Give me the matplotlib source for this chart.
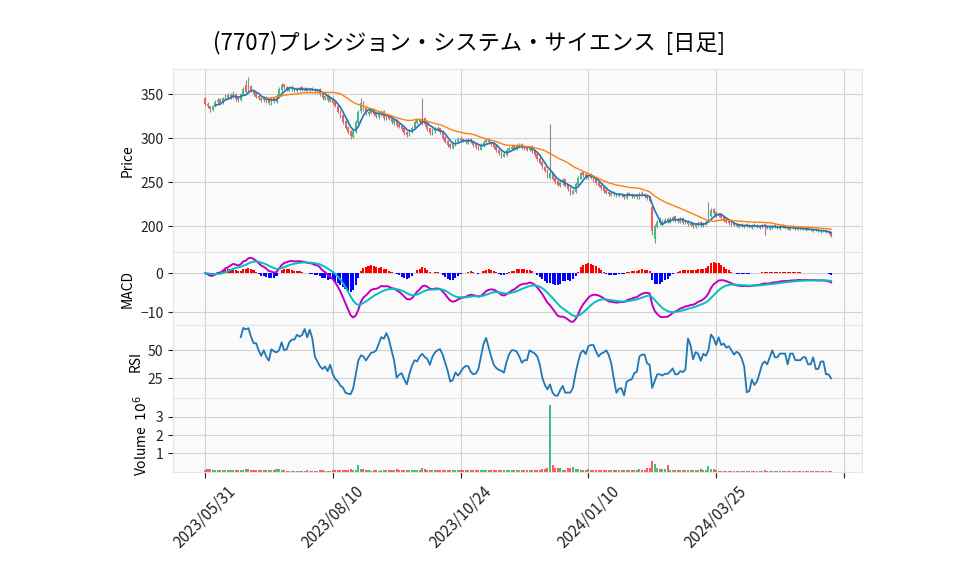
"""
(7707) 日足チャート: ローソク足 + MA / MACD / RSI / 出来高
"""

import numpy as np
import pandas as pd
import matplotlib

matplotlib.use("Agg")
import matplotlib.pyplot as plt
from matplotlib.ticker import MultipleLocator, FixedLocator

plt.rcParams["font.family"] = ["Noto Sans CJK JP", "DejaVu Sans"]
plt.rcParams["axes.unicode_minus"] = True

TITLE = "(7707)プレシジョン・システム・サイエンス  [日足]"

# 日付ラベル (50営業日ごと)
tick_index = [0, 50, 100, 150, 200, 250]
tick_labels = ["2023/05/31", "2023/08/10", "2023/10/24", "2024/01/10", "2024/03/25", ""]

opens = [
    345, 339, 336, 332, 336, 341, 344, 340, 345, 349, 345, 348, 350, 345, 343, 350, 360, 352, 359, 355,
    351, 348, 346, 343, 347, 344, 339, 346, 341, 348, 355, 361, 358, 354, 358, 357, 353, 355, 358, 354,
    357, 353, 357, 355, 352, 356, 351, 344, 349, 342, 346, 341, 337, 331, 326, 319, 313, 308, 301, 307,
    317, 331, 341, 334, 327, 329, 333, 328, 324, 326, 331, 322, 326, 323, 317, 321, 316, 314, 311, 307,
    303, 307, 311, 317, 321, 317, 323, 317, 311, 305, 308, 312, 311, 308, 301, 297, 293, 289, 292, 296,
    300, 299, 298, 294, 299, 297, 293, 291, 287, 291, 295, 299, 296, 294, 291, 287, 284, 279, 281, 286,
    288, 291, 287, 290, 293, 291, 290, 286, 291, 286, 282, 277, 273, 267, 264, 255, 259, 255, 251, 246,
    249, 253, 247, 243, 237, 239, 247, 254, 261, 259, 255, 259, 256, 253, 250, 247, 244, 241, 239, 235,
    239, 237, 234, 237, 236, 232, 238, 237, 233, 236, 232, 238, 237, 235, 233, 222, 185, 199, 206, 202,
    205, 208, 204, 207, 211, 208, 205, 209, 203, 206, 201, 204, 199, 201, 205, 200, 202, 206, 211, 219,
    216, 211, 214, 210, 208, 206, 204, 203, 202, 199, 202, 199, 202, 201, 198, 202, 201, 198, 199, 202,
    200, 197, 198, 201, 200, 197, 201, 200, 199, 196, 200, 199, 196, 199, 198, 195, 198, 197, 194, 197,
    196, 193, 196, 195, 194, 193,
]
highs = [
    347, 341, 337, 338, 343, 345, 346, 347, 350, 351, 351, 353, 351, 347, 351, 358, 366, 369, 360, 356,
    352, 349, 347, 348, 348, 345, 347, 347, 350, 358, 363, 362, 359, 359, 360, 358, 358, 359, 359, 358,
    358, 357, 358, 357, 356, 357, 352, 349, 350, 346, 347, 342, 338, 332, 327, 320, 314, 309, 310, 320,
    332, 345, 342, 335, 332, 334, 334, 329, 329, 332, 332, 327, 327, 324, 322, 322, 317, 315, 312, 308,
    310, 314, 320, 322, 322, 345, 324, 318, 312, 311, 313, 314, 312, 309, 302, 298, 294, 295, 299, 301,
    302, 300, 299, 300, 300, 298, 294, 292, 294, 298, 300, 300, 297, 295, 292, 288, 285, 284, 289, 291,
    292, 292, 293, 294, 294, 292, 291, 291, 292, 287, 283, 278, 274, 268, 265, 316, 262, 256, 252, 252,
    255, 254, 248, 244, 242, 250, 257, 262, 262, 260, 260, 260, 257, 254, 251, 248, 245, 242, 240, 240,
    240, 238, 238, 238, 237, 239, 239, 238, 237, 237, 239, 240, 238, 236, 234, 223, 202, 207, 210, 208,
    209, 210, 210, 212, 212, 209, 210, 210, 207, 207, 205, 205, 204, 206, 206, 205, 207, 227, 221, 220,
    217, 215, 215, 211, 209, 207, 205, 204, 203, 202, 203, 202, 203, 202, 202, 203, 202, 201, 202, 203,
    201, 200, 201, 202, 201, 201, 202, 201, 200, 200, 201, 200, 199, 200, 199, 198, 199, 198, 197, 198,
    197, 196, 197, 196, 195, 194,
]
lows = [
    337, 334, 330, 331, 335, 339, 338, 339, 343, 344, 344, 346, 342, 341, 342, 349, 351, 351, 352, 348,
    345, 343, 341, 341, 340, 338, 338, 340, 340, 347, 354, 356, 353, 353, 354, 352, 352, 354, 353, 353,
    352, 352, 353, 351, 351, 348, 343, 343, 341, 341, 339, 335, 329, 323, 316, 310, 305, 299, 300, 306,
    316, 329, 331, 326, 325, 327, 325, 323, 322, 325, 321, 320, 320, 316, 315, 313, 311, 308, 304, 301,
    302, 306, 310, 316, 316, 315, 314, 308, 304, 304, 306, 308, 305, 298, 294, 290, 288, 288, 291, 295,
    296, 295, 293, 293, 294, 290, 288, 286, 286, 290, 294, 293, 291, 288, 284, 281, 277, 278, 280, 285,
    287, 286, 286, 289, 288, 287, 285, 285, 283, 279, 274, 270, 265, 261, 255, 253, 252, 248, 245, 244,
    247, 244, 240, 235, 236, 238, 246, 253, 256, 254, 254, 253, 250, 247, 244, 241, 238, 236, 234, 234,
    234, 233, 233, 233, 231, 231, 234, 232, 232, 231, 231, 234, 232, 230, 227, 190, 181, 198, 201, 201,
    203, 203, 203, 206, 205, 204, 204, 202, 202, 200, 200, 198, 198, 200, 199, 199, 201, 205, 210, 213,
    210, 210, 207, 205, 203, 201, 200, 200, 199, 198, 199, 198, 199, 198, 197, 199, 198, 197, 198, 190,
    197, 196, 197, 198, 197, 196, 198, 197, 196, 195, 197, 196, 195, 196, 195, 194, 195, 194, 193, 194,
    193, 192, 193, 192, 191, 188,
]
closes = [
    339, 336, 333, 337, 341, 343, 340, 345, 348, 346, 349, 350, 344, 343, 350, 356, 352, 358, 354, 350,
    347, 345, 343, 346, 343, 340, 345, 342, 348, 356, 360, 358, 355, 357, 356, 354, 356, 357, 355, 356,
    354, 356, 355, 353, 355, 350, 345, 348, 343, 345, 340, 336, 330, 325, 318, 312, 307, 302, 308, 318,
    330, 340, 333, 328, 330, 332, 327, 325, 327, 330, 323, 325, 322, 318, 320, 315, 313, 310, 306, 304,
    308, 312, 318, 320, 318, 322, 316, 310, 306, 309, 311, 310, 307, 300, 296, 292, 290, 293, 297, 299,
    298, 297, 295, 298, 296, 292, 290, 288, 292, 296, 298, 295, 293, 290, 286, 283, 280, 282, 287, 289,
    290, 288, 291, 292, 290, 289, 287, 290, 285, 281, 276, 272, 268, 263, 258, 260, 254, 250, 247, 250,
    252, 246, 242, 238, 240, 248, 255, 260, 258, 256, 258, 255, 252, 249, 246, 243, 240, 238, 236, 238,
    236, 235, 236, 235, 233, 237, 236, 234, 235, 233, 237, 236, 234, 232, 229, 194, 200, 205, 203, 206,
    207, 205, 208, 210, 207, 206, 208, 204, 205, 202, 203, 200, 202, 204, 201, 203, 205, 210, 218, 215,
    212, 213, 209, 207, 205, 203, 202, 201, 200, 201, 200, 201, 200, 199, 201, 200, 199, 200, 201, 200,
    198, 199, 200, 199, 198, 200, 199, 198, 197, 199, 198, 197, 198, 197, 196, 197, 196, 195, 196, 195,
    194, 195, 194, 193, 192, 189,
]
# 出来高 (千株)
volume_k = [
    110, 150, 120, 100, 100, 95, 90, 85, 100, 90, 80, 95, 90, 85, 100, 110, 150, 120, 100, 90,
    85, 80, 90, 95, 80, 70, 60, 110, 140, 130, 100, 60, 50, 50, 45, 50, 55, 50, 45, 50,
    60, 50, 55, 50, 45, 90, 60, 50, 50, 55, 100, 110, 110, 100, 110, 100, 110, 120, 100, 110,
    370, 160, 130, 70, 60, 50, 60, 70, 50, 60, 90, 80, 60, 90, 60, 120, 80, 60, 60, 110,
    80, 70, 60, 100, 80, 200, 120, 100, 80, 90, 70, 60, 100, 90, 110, 90, 80, 70, 100, 90,
    80, 70, 60, 60, 80, 70, 60, 60, 80, 70, 60, 60, 70, 110, 80, 70, 90, 80, 60, 60,
    60, 70, 60, 60, 80, 70, 80, 90, 100, 100, 110, 100, 120, 140, 200, 3670, 370, 200, 180, 200,
    90, 110, 200, 200, 260, 150, 120, 80, 90, 100, 120, 80, 90, 70, 60, 80, 100, 90, 80, 70,
    60, 80, 90, 100, 80, 70, 60, 80, 90, 100, 150, 100, 110, 200, 200, 590, 440, 200, 150, 150,
    130, 370, 90, 80, 70, 80, 90, 80, 70, 80, 90, 100, 90, 80, 150, 90, 100, 310, 150, 120,
    100, 40, 40, 35, 40, 35, 40, 35, 40, 35, 40, 35, 40, 35, 40, 35, 40, 35, 40, 90,
    40, 35, 40, 35, 40, 35, 40, 35, 40, 35, 40, 35, 40, 35, 40, 35, 40, 35, 40, 35,
    40, 35, 40, 35, 40, 35,
]

UP_COLOR = "#40c080"
DOWN_COLOR = "#ff5a5a"
WICK_COLOR = "#8c8c8c"
FACE = "#fafafa"
GRID = "#d2d2d2"


def main():
    df = pd.DataFrame({"open": opens, "high": highs, "low": lows, "close": closes,
                       "volume": np.array(volume_k) * 1000})
    x = np.arange(len(df))
    close = df["close"]

    ma5 = close.rolling(5).mean()
    ma25 = close.rolling(25).mean()

    ema12 = close.ewm(span=12, adjust=False).mean()
    ema26 = close.ewm(span=26, adjust=False).mean()
    macd = ema12 - ema26
    signal = macd.ewm(span=9, adjust=False).mean()
    hist = macd - signal

    delta = close.diff()
    gain = delta.clip(lower=0).rolling(14).mean()
    loss = (-delta.clip(upper=0)).rolling(14).mean()
    rsi = 100 - 100 / (1 + gain / loss)

    fig = plt.figure(figsize=(9.58, 5.75), dpi=100)
    left, width = 0.1806, 0.7192
    ax_p = fig.add_axes([left, 0.5609, width, 0.3183])
    ax_m = fig.add_axes([left, 0.4348, width, 0.1261], sharex=ax_p)
    ax_r = fig.add_axes([left, 0.3078, width, 0.1270], sharex=ax_p)
    ax_v = fig.add_axes([left, 0.1783, width, 0.1296], sharex=ax_p)
    axes = [ax_p, ax_m, ax_r, ax_v]

    up = df["close"] >= df["open"]
    colors = np.where(up, UP_COLOR, DOWN_COLOR)

    # ローソク足
    ax_p.vlines(x, df["low"], df["high"], color=WICK_COLOR, linewidth=0.8, zorder=2)
    body_lo = np.minimum(df["open"], df["close"])
    body_h = np.maximum(np.abs(df["close"] - df["open"]), 0.4)
    ax_p.bar(x, body_h, bottom=body_lo, width=0.7, color=colors, linewidth=0, zorder=3)
    ax_p.plot(x, ma5, color="#1f77b4", linewidth=1.2, zorder=4)
    ax_p.plot(x, ma25, color="#ff7f0e", linewidth=1.0, zorder=4)
    ax_p.set_ylim(170, 378)
    ax_p.yaxis.set_major_locator(MultipleLocator(50))
    ax_p.set_ylabel("Price")

    # MACD
    ax_m.bar(x, hist, width=0.8, color=np.where(hist >= 0, "#ff0000", "#0000ff"), linewidth=0, zorder=2)
    ax_m.plot(x, macd, color="#c000c0", linewidth=1.4, zorder=3)
    ax_m.plot(x, signal, color="#00c0c0", linewidth=1.4, zorder=3)
    ax_m.set_ylim(-13.3, 5.3)
    ax_m.yaxis.set_major_locator(MultipleLocator(10))
    ax_m.set_ylabel("MACD")

    # RSI
    ax_r.plot(x, rsi, color="#1f77b4", linewidth=1.3, zorder=3)
    ax_r.set_ylim(7.4, 72.6)
    ax_r.yaxis.set_major_locator(FixedLocator([25, 50]))
    ax_r.set_ylabel("RSI")

    # 出来高
    ax_v.bar(x, df["volume"] / 1e6, width=0.8, color=colors, linewidth=0, zorder=2)
    ax_v.set_ylim(-0.05, 4.03)
    ax_v.yaxis.set_major_locator(FixedLocator([1, 2, 3]))
    ax_v.set_ylabel("Volume  $10^{6}$")

    for ax in axes:
        ax.set_facecolor(FACE)
        ax.grid(True, color=GRID, linewidth=0.8)
        ax.set_axisbelow(True)
        for sp in ax.spines.values():
            sp.set_color("#e6e6e6")
        ax.tick_params(axis="y", labelsize=10, length=3.5, width=0.8, colors="#222222")
        ax.yaxis.label.set_size(10)
        ax.tick_params(axis="x", length=0, labelbottom=False)

    ax_v.set_xlim(-12.5, 257.1)
    ax_v.xaxis.set_major_locator(FixedLocator(tick_index))
    ax_v.set_xticklabels(tick_labels)
    ax_v.tick_params(axis="x", length=4, width=0.8, labelbottom=True, labelsize=11, colors="#222222")
    for lab in ax_v.get_xticklabels():
        lab.set_rotation(45)
        lab.set_ha("center")

    fig.text(0.49, 0.925, TITLE, ha="center", va="center", fontsize=16)

    fig.savefig("out.png", dpi=100)
    plt.close(fig)


if __name__ == "__main__":
    main()
